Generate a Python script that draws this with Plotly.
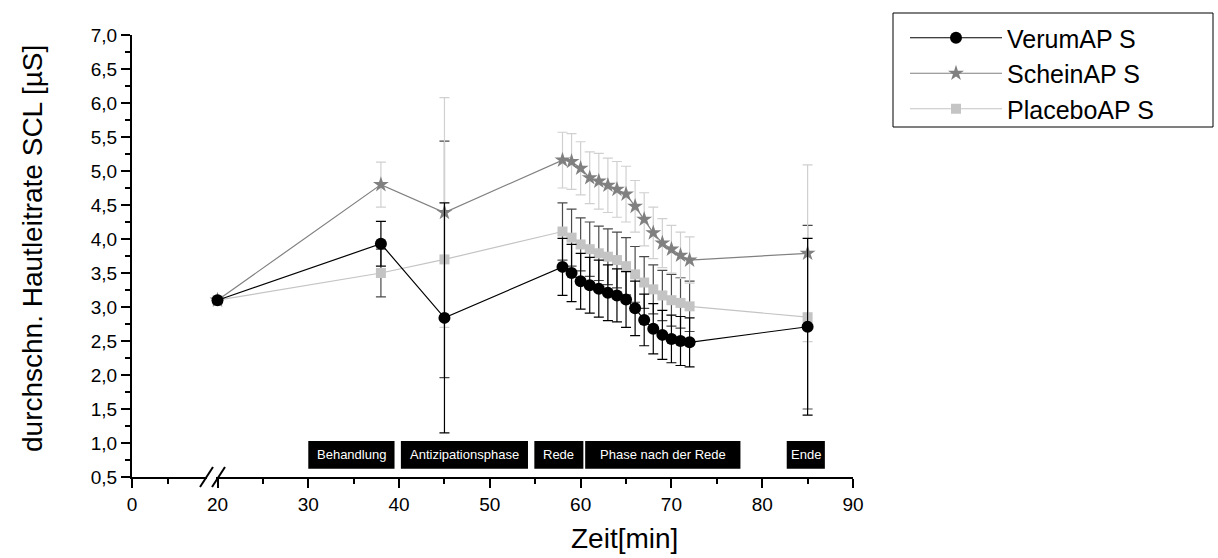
import plotly.graph_objects as go

# ---------------- data ----------------
minutes = [20, 38, 45, 58, 59, 60, 61, 62, 63, 64, 65, 66, 67, 68, 69, 70, 71, 72, 85]

verum = [3.10, 3.93, 2.84, 3.59, 3.50, 3.38, 3.32, 3.27, 3.21, 3.17, 3.11, 2.98, 2.81,
         2.68, 2.59, 2.53, 2.50, 2.48, 2.71]
verum_err = [None, 0.33, 1.69, 0.42, 0.42, 0.41, 0.41, 0.42, 0.41, 0.39, 0.41, 0.40, 0.38,
             0.37, 0.36, 0.35, 0.36, 0.36, 1.30]

schein = [3.10, 4.80, 4.39, 5.16, 5.14, 5.04, 4.90, 4.85, 4.79, 4.73, 4.66, 4.48, 4.29,
          4.09, 3.94, 3.85, 3.76, 3.69, 3.79]
schein_err = [None, 0.33, 1.69, 0.41, 0.41, 0.39, 0.38, 0.41, 0.40, 0.41, 0.41, 0.38, 0.39,
              0.38, 0.36, 0.35, 0.34, 0.34, 1.30]

placebo = [3.10, 3.50, 3.70, 4.11, 4.02, 3.92, 3.85, 3.79, 3.74, 3.69, 3.60, 3.48, 3.36,
           3.26, 3.17, 3.10, 3.06, 3.01, 2.85]
placebo_err = [None, 0.35, 1.74, 0.42, 0.42, 0.39, 0.40, 0.40, 0.41, 0.41, 0.42, 0.41, 0.38,
               0.36, 0.37, 0.38, 0.37, 0.37, 1.35]

series_names = ["VerumAP S", "ScheinAP S", "PlaceboAP S"]

phase_labels = ["Behandlung", "Antizipationsphase", "Rede", "Phase nach der Rede", "Ende"]
phase_start = [30.0, 40.2, 54.9, 60.5, 82.7]
phase_end = [39.5, 54.2, 60.3, 77.6, 86.9]

y_ticks = [0.5 * i for i in range(1, 15)]

# ---------------- layout geometry (pixels) ----------------
W, H = 1218, 558
L, R, T, B = 132, 853, 35, 477
PW, PH = R - L, B - T


def px_x(p):
    return (p - L) / PW


def px_y(p):
    return (B - p) / PH


FONT = "Liberation Sans, Arial, sans-serif"

fig = go.Figure()

# empty trace so the left (compressed) axis segment forms a subplot with the y axis
fig.add_trace(go.Scatter(x=[None], y=[None], xaxis="x", yaxis="y", mode="markers",
                         showlegend=False, hoverinfo="skip"))

fig.add_trace(go.Scatter(
    x=minutes, y=placebo, name=series_names[2], xaxis="x2", yaxis="y",
    mode="lines+markers", cliponaxis=False,
    line=dict(color="#c4c4c4", width=1.2),
    marker=dict(symbol="square", size=10, color="#c4c4c4"),
    error_y=dict(type="data", array=placebo_err, visible=True, color="#4a4a4a",
                 thickness=1.2, width=5),
))
fig.add_trace(go.Scatter(
    x=minutes, y=schein, name=series_names[1], xaxis="x2", yaxis="y",
    mode="lines+markers", cliponaxis=False,
    line=dict(color="#808080", width=1.2),
    marker=dict(symbol="star", size=12, color="#808080"),
    error_y=dict(type="data", array=schein_err, visible=True, color="#d0d0d0",
                 thickness=1.2, width=5),
))
fig.add_trace(go.Scatter(
    x=minutes, y=verum, name=series_names[0], xaxis="x2", yaxis="y",
    mode="lines+markers", cliponaxis=False,
    line=dict(color="black", width=1.2),
    marker=dict(symbol="circle", size=12, color="black"),
    error_y=dict(type="data", array=verum_err, visible=True, color="black",
                 thickness=1.2, width=5),
))

shapes = []
annotations = []
for lab, s, e in zip(phase_labels, phase_start, phase_end):
    shapes.append(dict(type="rect", xref="x2", yref="y", x0=s, x1=e, y0=0.62, y1=1.03,
                       fillcolor="black", line=dict(width=0), layer="above"))
    annotations.append(dict(x=(s + e) / 2, y=0.83, xref="x2", yref="y", text=lab,
                            showarrow=False, font=dict(family=FONT, size=13, color="white")))

# axis break marks
for x0 in (200, 212):
    shapes.append(dict(type="line", xref="paper", yref="paper",
                       x0=px_x(x0), y0=px_y(487), x1=px_x(x0 + 13), y1=px_y(467),
                       line=dict(color="black", width=2)))

# legend frame
shapes.append(dict(type="rect", xref="paper", yref="paper",
                   x0=px_x(893), x1=px_x(1213), y0=px_y(127), y1=px_y(13),
                   line=dict(color="black", width=1), fillcolor="rgba(0,0,0,0)"))

annotations.append(dict(x=px_x(33), y=px_y(249), xref="paper", yref="paper",
                        xanchor="center", yanchor="middle",
                        text="durchschn. Hautleitrate SCL [µS]", textangle=-90,
                        showarrow=False, font=dict(family=FONT, size=28, color="black")))
annotations.append(dict(x=px_x(624), y=px_y(538), xref="paper", yref="paper",
                        xanchor="center", yanchor="middle",
                        text="Zeit[min]", showarrow=False,
                        font=dict(family=FONT, size=28, color="black")))

left_end = 206.5
right_start = 216.0
axis_common = dict(showgrid=False, zeroline=False, showline=True, linecolor="black",
                   linewidth=2, ticks="outside", ticklen=9, tickwidth=1.5, tickcolor="black",
                   tickfont=dict(family=FONT, size=19, color="black"))

fig.update_layout(
    width=W, height=H,
    margin=dict(l=L, r=W - R, t=T, b=H - B, pad=0),
    paper_bgcolor="white", plot_bgcolor="white",
    separators=",.",
    showlegend=True,
    legend=dict(x=px_x(905), y=px_y(15), xanchor="left", yanchor="top",
                borderwidth=0, bgcolor="rgba(0,0,0,0)",
                traceorder="reversed", itemwidth=92,
                font=dict(family=FONT, size=25, color="black")),
    xaxis=dict(domain=[0, px_x(left_end)], range=[0, (left_end - L) / 3.6],
               tickvals=[0], ticktext=["0"], anchor="y",
               minor=dict(tickvals=[10], ticks="outside", ticklen=5, tickwidth=1.5,
                          tickcolor="black"),
               **axis_common),
    xaxis2=dict(domain=[px_x(right_start), 1], range=[20 - (217.5 - right_start) / 9.083, 90],
                tick0=0, dtick=10, anchor="y",
                minor=dict(dtick=5, tick0=0, ticks="outside", ticklen=5, tickwidth=1.5,
                           tickcolor="black"),
                **axis_common),
    yaxis=dict(range=[0.5, 7.0], tickvals=y_ticks, tickformat=".1f", anchor="x",
               minor=dict(dtick=0.25, tick0=0, ticks="outside", ticklen=5, tickwidth=1.5,
                          tickcolor="black"),
               **axis_common),
    shapes=shapes,
    annotations=annotations,
)

fig.write_html("out.html")
